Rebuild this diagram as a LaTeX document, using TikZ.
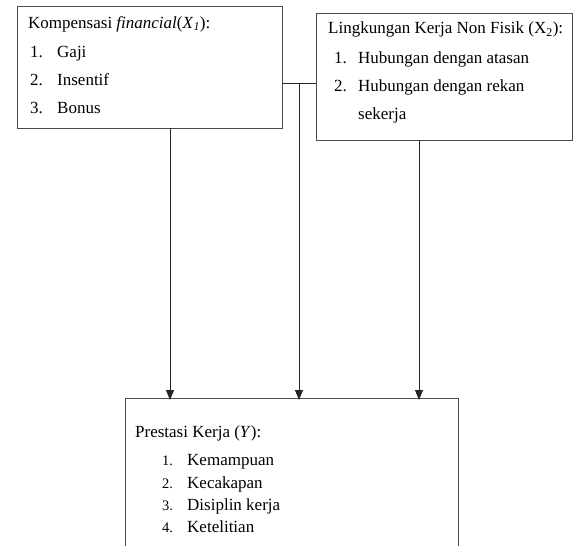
\documentclass[tikz,border=0pt]{standalone}
\usepackage{fontspec}
\setmainfont{Liberation Serif}
\usetikzlibrary{arrows.meta}
\begin{document}
\begin{tikzpicture}[x=1pt,y=-1pt,
  box/.style={draw=black!70,line width=1pt,anchor=north west,inner sep=0pt,outer sep=0pt},
  conn/.style={draw=black!85,line width=0.9pt},
  arr/.style={conn,-{Triangle[width=8pt,length=10pt]}},
  txt/.style={anchor=base west,inner sep=0pt,font=\fontsize{17}{20}\selectfont},
  num/.style={anchor=base west,inner sep=0pt,font=\fontsize{14.5}{17}\selectfont}]
\useasboundingbox (0,0) rectangle (573,546);
\clip (0,0) rectangle (573,546);
\node[box,minimum width=265pt,minimum height=122pt] (b1) at (17,6) {};
\node[box,minimum width=256pt,minimum height=127pt] (b2) at (316,13) {};
\node[box,minimum width=333pt,minimum height=170pt] (b3) at (125,398) {};
% texts box 1
\node[txt] (t1) at (28,28) {Kompensasi \textit{financial}(\textit{X}\textsubscript{\textit{1}}):};
\node[txt] (t1a) at (30,57) {1.};
\node[txt] (t1b) at (57,57) {Gaji};
\node[txt] (t1c) at (30,85) {2.};
\node[txt] (t1d) at (57,85) {Insentif};
\node[txt] (t1e) at (30,113) {3.};
\node[txt] (t1f) at (57,113) {Bonus};
% texts box 2
\node[txt] (t2) at (328,34) {Lingkungan Kerja Non Fisik (X\textsubscript{2}):};
\node[txt] (t2a) at (334,63) {1.};
\node[txt] (t2b) at (358,63) {Hubungan dengan atasan};
\node[txt] (t2c) at (334,91) {2.};
\node[txt] (t2d) at (358,91) {Hubungan dengan rekan};
\node[txt] (t2e) at (358,119) {sekerja};
% texts box 3
\node[txt] (t3) at (135,437) {Prestasi Kerja (\textit{Y}):};
\node[num] (t3a) at (162,465) {1.};
\node[txt] (t3b) at (187,465) {Kemampuan};
\node[num] (t3c) at (162,488) {2.};
\node[txt] (t3d) at (187,488) {Kecakapan};
\node[num] (t3e) at (162,510) {3.};
\node[txt] (t3f) at (187,510) {Disiplin kerja};
\node[num] (t3g) at (162,532) {4.};
\node[txt] (t3h) at (187,532) {Ketelitian};
% connectors
\coordinate (j) at (299,83);
\coordinate (a1) at (170,0);
\coordinate (a3) at (419,0);
\draw[conn] (b1.east |- j) -- (b2.west |- j);
\draw[arr] (j) -- ([yshift=-2pt]j |- b3.north);
\draw[arr] (b1.south -| a1) -- ([yshift=-2pt]a1 |- b3.north);
\draw[arr] (b2.south -| a3) -- ([yshift=-2pt]a3 |- b3.north);
\end{tikzpicture}
\end{document}
